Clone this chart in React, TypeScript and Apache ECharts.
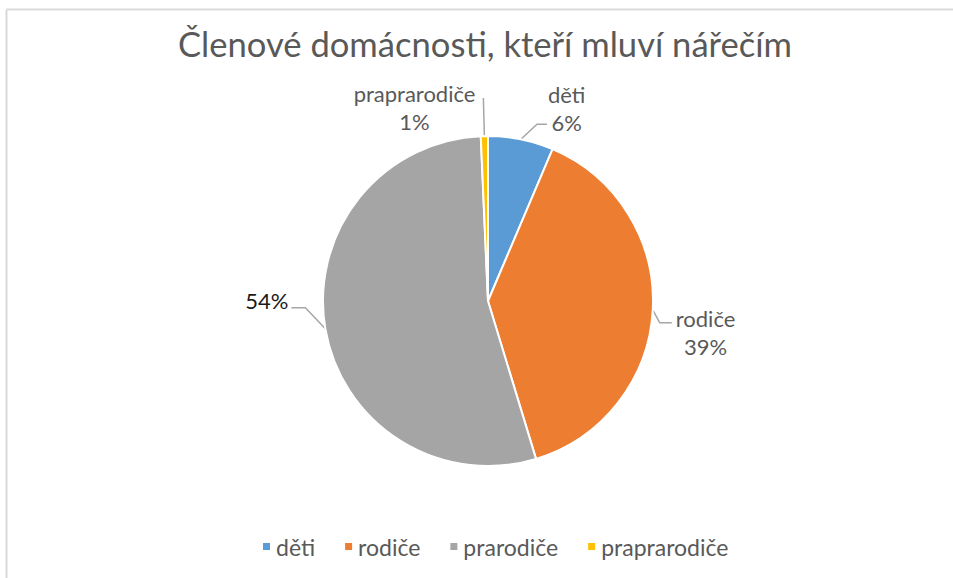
import React, { useEffect, useRef } from "react";
import * as echarts from "echarts";

const title = "Členové domácnosti, kteří mluví nářečím";
const categories = ["děti", "rodiče", "prarodiče", "praprarodiče"];
const values = [6.4, 38.9, 54.0, 0.7];
const colors = ["#5b9bd5", "#ed7d31", "#a5a5a5", "#ffc000"];
const showName = [true, true, false, true];

const FONT = "Lato, 'Open Sans', sans-serif";

// label / leader-line offsets relative to the slice anchor computed by ECharts
const labelGeom = [
  { bend: [16, -15], end: [26, -15], lx: 27, ly: -31, align: "left" },
  { bend: [7, 13], end: [19, 13], lx: 23, ly: 23, align: "left" },
  { bend: [-20, -21], end: [-34, -21], lx: -37, ly: -28, align: "right" },
  { bend: [-1, -38], end: [-1, -38], lx: -9, ly: -29, align: "right" },
];

export default function App() {
  const ref = useRef<HTMLDivElement>(null);
  useEffect(() => {
    document.body.style.margin = "0";
    const chart = echarts.init(ref.current!, undefined, { renderer: "svg" });
    chart.setOption({
      animation: false,
      backgroundColor: "#ffffff",
      title: {
        text: title,
        left: 173,
        top: 21,
        textStyle: { fontFamily: FONT, fontSize: 34.6, fontWeight: "normal", color: "#595959" },
      },
      graphic: [
        { type: "line", shape: { x1: 6.5, y1: 9.5, x2: 953, y2: 9.5 }, style: { stroke: "#d9d9d9", lineWidth: 2 } },
        { type: "line", shape: { x1: 6.5, y1: 9.5, x2: 6.5, y2: 578 }, style: { stroke: "#d9d9d9", lineWidth: 2 } },
      ],
      legend: {
        bottom: 15,
        left: 256,
        icon: "rect",
        itemWidth: 9,
        itemHeight: 9,
        itemGap: 28,
        textStyle: { fontFamily: FONT, fontSize: 23, color: "#595959" },
        data: categories,
      },
      series: [
        {
          type: "pie",
          center: [488, 301],
          radius: 165,
          startAngle: 90,
          clockwise: true,
          itemStyle: { borderColor: "#ffffff", borderWidth: 2 },
          label: {
            show: true,
            position: "outside",
            fontFamily: FONT,
            fontSize: 22,
            lineHeight: 28,
            color: "#595959",
            formatter: (p: any) =>
              showName[p.dataIndex]
                ? `{c|${p.name}}\n{c|${Math.round(p.percent)}%}`
                : `{c|${Math.round(p.percent)}%}`,
            rich: {
              c: { align: "center", fontFamily: FONT, fontSize: 22, lineHeight: 28 },
            },
          },
          labelLine: {
            show: true,
            length: 18,
            length2: 12,
            lineStyle: { color: "#a6a6a6", width: 1.5 },
          },
          labelLayout: (params: any) => {
            const g = labelGeom[params.dataIndex];
            const pts = params.labelLinePoints;
            if (!pts || !g) return {};
            const p0 = pts[0];
            return {
              x: p0[0] + g.lx,
              y: p0[1] + g.ly,
              align: g.align,
              verticalAlign: "middle",
              labelLinePoints: [
                [p0[0], p0[1]],
                [p0[0] + g.bend[0], p0[1] + g.bend[1]],
                [p0[0] + g.end[0], p0[1] + g.end[1]],
              ],
            };
          },
          data: categories.map((c, i) => ({
            name: c,
            value: values[i],
            itemStyle: { color: colors[i] },
            label: i === 2 ? { color: "#1a1a1a", rich: { c: { color: "#1a1a1a" } } } : undefined,
          })),
        },
      ],
    });
    return () => chart.dispose();
  }, []);
  return <div ref={ref} style={{ position: "fixed", left: 0, top: 0, width: 953, height: 578 }} />;
}
